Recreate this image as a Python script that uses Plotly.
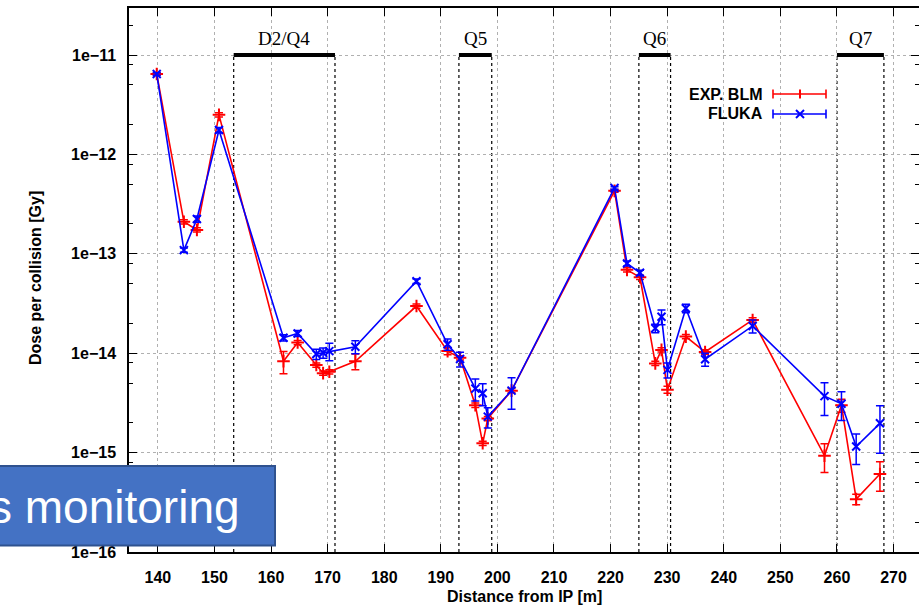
import numpy as np
import plotly.graph_objects as go

# ---- data ----
dist_m = [139.8, 144.6, 146.9, 150.8, 162.2, 164.7, 168.0, 169.2, 170.3, 174.9,
          185.7, 191.2, 193.4, 196.1, 197.4, 198.3, 202.5, 220.7, 222.9, 225.2,
          227.9, 229.0, 230.05, 233.3, 236.7, 245.1, 257.8, 260.8, 263.4, 267.6]

exp_blm = [6.45e-12, 2.1e-13, 1.74e-13, 2.5e-12, 8.3e-15, 1.28e-14, 7.6e-15, 6.3e-15, 6.5e-15, 8.3e-15,
           2.98e-14, 1.05e-14, 9.0e-15, 3.0e-15, 1.24e-15, 2.2e-15, 4.2e-15, 4.3e-13, 6.9e-14, 5.8e-14,
           7.9e-15, 1.08e-14, 4.3e-15, 1.47e-14, 1.03e-14, 2.16e-14, 9.3e-16, 3.0e-15, 3.4e-16, 6.1e-16]
exp_blm_relerr = [0.03, 0.05, 0.05, 0.05, 0.25, 0.05, 0.05, 0.05, 0.05, 0.18,
                  0.05, 0.08, 0.05, 0.05, 0.05, 0.05, 0.05, 0.03, 0.05, 0.05,
                  0.05, 0.05, 0.08, 0.05, 0.05, 0.05, 0.32, 0.15, 0.12, 0.33]

fluka = [6.45e-12, 1.09e-13, 2.24e-13, 1.76e-12, 1.43e-14, 1.58e-14, 9.8e-15, 1.01e-14, 1.05e-14, 1.16e-14,
         5.3e-14, 1.23e-14, 8.75e-15, 4.4e-15, 3.95e-15, 2.3e-15, 4.2e-15, 4.6e-13, 8.0e-14, 6.45e-14,
         1.78e-14, 2.33e-14, 6.8e-15, 2.83e-14, 8.7e-15, 1.88e-14, 3.7e-15, 3.1e-15, 1.15e-15, 1.97e-15]
fluka_relerr = [0.03, 0.05, 0.07, 0.06, 0.07, 0.07, 0.12, 0.12, 0.2, 0.15,
                0.05, 0.13, 0.17, 0.25, 0.25, 0.23, 0.35, 0.03, 0.06, 0.06,
                0.1, 0.17, 0.17, 0.1, 0.15, 0.15, 0.36, 0.32, 0.34, 0.5]

magnet_names = ["D2/Q4", "Q5", "Q6", "Q7"]
magnet_start = [153.4, 193.2, 225.0, 260.0]
magnet_end = [171.3, 199.0, 230.6, 268.3]

x_ticks = list(range(140, 271, 10))
y_decades = [-16, -15, -14, -13, -12, -11]
y_ticktext = ["1e\u221216", "1e\u221215", "1e\u221214", "1e\u221213", "1e\u221212", "1e\u221211"]
minor_mult = [2, 5, 8]

# ---- layout geometry (pixels) ----
W, H = 919, 607
L, R, T, B = 129, 0, 8, 55
PW, PH = W - L - R, H - T - B
XR = [134.9, 274.5]
YR = [-16.0, -10.527]


def px_x(p):
    return (p - L) / PW


def px_y(p):
    return (H - B - p) / PH


def paper_from_log(v):
    return (v - YR[0]) / (YR[1] - YR[0])


RED = "#ff0000"
BLUE = "#0000ff"
FONT = "Liberation Sans"

fig = go.Figure()

ered = [v * e for v, e in zip(exp_blm, exp_blm_relerr)]
eblue = [v * e for v, e in zip(fluka, fluka_relerr)]

fig.add_trace(go.Scatter(
    x=dist_m, y=exp_blm, mode="lines+markers", name="EXP. BLM",
    line=dict(color=RED, width=1.6),
    marker=dict(symbol="cross-thin", size=9, color=RED, line=dict(color=RED, width=2)),
    error_y=dict(type="data", array=ered, arrayminus=ered, color=RED, thickness=1.5, width=4),
    showlegend=False,
))
fig.add_trace(go.Scatter(
    x=dist_m, y=fluka, mode="lines+markers", name="FLUKA",
    line=dict(color=BLUE, width=1.6),
    marker=dict(symbol="x-thin", size=8, color=BLUE, line=dict(color=BLUE, width=2)),
    error_y=dict(type="data", array=eblue, arrayminus=eblue, color=BLUE, thickness=1.5, width=4),
    showlegend=False,
))

shapes = []
annotations = []

# magnet regions
bar_y = paper_from_log(-11)
for name, s, e in zip(magnet_names, magnet_start, magnet_end):
    shapes.append(dict(type="line", xref="x", yref="paper", x0=s, x1=e, y0=bar_y, y1=bar_y,
                       line=dict(color="black", width=4), layer="above"))
    for xv in (s, e):
        shapes.append(dict(type="line", xref="x", yref="paper", x0=xv, x1=xv, y0=0, y1=bar_y,
                           line=dict(color="black", width=1.2, dash="3px,3px"), layer="below"))
    annotations.append(dict(text=name, x=(s + e) / 2, y=bar_y + px_y(552 - 4) - px_y(552), xref="x",
                            yref="paper", yanchor="bottom", showarrow=False,
                            font=dict(family="Liberation Serif", size=19, color="black")))

# manual legend
leg_x0, leg_x1, leg_xm = 773, 826, 800
for label, col, ly, sym in (("EXP. BLM", RED, 94, "+"), ("FLUKA", BLUE, 114, "x")):
    shapes.append(dict(type="line", xref="paper", yref="paper", x0=px_x(leg_x0), x1=px_x(leg_x1),
                       y0=px_y(ly), y1=px_y(ly), line=dict(color=col, width=1.6)))
    for cx in (leg_x0, leg_x1):
        shapes.append(dict(type="line", xref="paper", yref="paper", x0=px_x(cx), x1=px_x(cx),
                           y0=px_y(ly - 4.5), y1=px_y(ly + 4.5), line=dict(color=col, width=1.6)))
    if sym == "+":
        shapes.append(dict(type="line", xref="paper", yref="paper", x0=px_x(leg_xm), x1=px_x(leg_xm),
                           y0=px_y(ly - 4.5), y1=px_y(ly + 4.5), line=dict(color=col, width=2)))
    else:
        shapes.append(dict(type="line", xref="paper", yref="paper", x0=px_x(leg_xm - 4), x1=px_x(leg_xm + 4),
                           y0=px_y(ly - 4), y1=px_y(ly + 4), line=dict(color=col, width=2)))
        shapes.append(dict(type="line", xref="paper", yref="paper", x0=px_x(leg_xm - 4), x1=px_x(leg_xm + 4),
                           y0=px_y(ly + 4), y1=px_y(ly - 4), line=dict(color=col, width=2)))
    annotations.append(dict(text="<b>%s</b>" % label, x=px_x(764), y=px_y(ly), xref="paper", yref="paper",
                            xanchor="right", yanchor="middle", showarrow=False, borderpad=0,
                            font=dict(family=FONT, size=16, color="black")))

# axis titles
annotations.append(dict(text="<b>Dose per collision [Gy]</b>", x=px_x(35), y=px_y(278), xref="paper",
                        yref="paper", textangle=-90, showarrow=False, xanchor="center", yanchor="middle",
                        font=dict(family=FONT, size=16, color="black")))
annotations.append(dict(text="<b>Distance from IP [m]</b>", x=px_x(524), y=px_y(596), xref="paper",
                        yref="paper", showarrow=False, xanchor="center", yanchor="middle",
                        font=dict(family=FONT, size=16, color="black")))

# overlay box ("... monitoring")
shapes.append(dict(type="rect", xref="paper", yref="paper", x0=px_x(-5), x1=px_x(275),
                   y0=px_y(545.5), y1=px_y(466), fillcolor="#4472c4",
                   line=dict(color="#2f528f", width=2), layer="above"))
annotations.append(dict(text="s monitoring", x=px_x(242), y=px_y(507), xref="paper", yref="paper",
                        xanchor="right", yanchor="middle", showarrow=False,
                        font=dict(family=FONT, size=46, color="white")))

minor_vals = [m * 10.0 ** d for d in range(-16, -10) for m in minor_mult]

fig.update_layout(
    width=W, height=H,
    margin=dict(l=L, r=R, t=T, b=B, autoexpand=False),
    plot_bgcolor="white", paper_bgcolor="white",
    shapes=shapes, annotations=annotations,
    xaxis=dict(
        range=XR, tickmode="array", tickvals=x_ticks, ticktext=[str(v) for v in x_ticks],
        ticks="inside", ticklen=8, tickwidth=1.2, tickcolor="black",
        showline=True, linecolor="black", linewidth=1.5, mirror="ticks",
        showgrid=True, gridcolor="#b0b0b0", griddash="dot", gridwidth=1,
        zeroline=False, ticklabelstandoff=10,
        tickfont=dict(family=FONT, size=16, color="black", weight="bold"),
    ),
    yaxis=dict(
        type="log", range=YR, tickmode="array",
        tickvals=[10.0 ** d for d in y_decades], ticktext=y_ticktext,
        ticks="inside", ticklen=8, tickwidth=1.2, tickcolor="black",
        showline=True, linecolor="black", linewidth=1.5, mirror="ticks",
        showgrid=True, gridcolor="#b0b0b0", griddash="dot", gridwidth=1,
        zeroline=False, ticklabelstandoff=8,
        minor=dict(tickmode="array", tickvals=minor_vals, ticks="inside", ticklen=4,
                   tickcolor="black", tickwidth=1.2, showgrid=False),
        tickfont=dict(family=FONT, size=16, color="black", weight="bold"),
    ),
)

fig.write_html("out.html", config={"displayModeBar": False},
               post_script="document.body.style.margin='0';document.body.style.overflow='hidden';")
